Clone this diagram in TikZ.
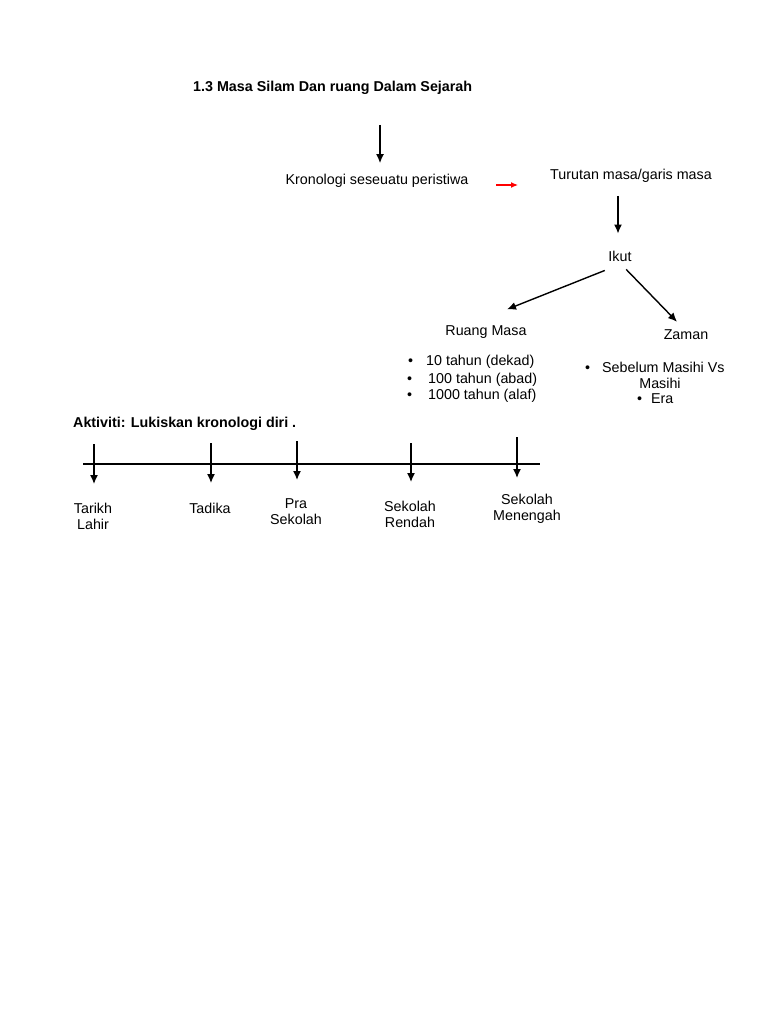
\documentclass[tikz,border=0pt]{standalone}
\usepackage{fontspec}
\setmainfont{Liberation Sans}
\usetikzlibrary{positioning,arrows.meta}
\tikzset{>={Latex[length=9pt,width=8pt]}}
\tikzstyle{txt}=[inner sep=0pt,font=\fontsize{14.3}{16}\selectfont,align=center]
\tikzstyle{head}=[txt,anchor=west,font=\fontsize{14.3}{16}\selectfont\bfseries]
\tikzstyle{item}=[txt,anchor=west,align=left]
\tikzstyle{link}=[->,line width=1.4pt]
\newcommand{\bul}[1][18pt]{\makebox[#1][l]{\textbullet}}

\begin{document}
\begin{tikzpicture}[x=1pt,y=-1pt]
\useasboundingbox (0,0) rectangle (768,1024);
\fill[white] (0,0) rectangle (768,1024);
\node[head] (title) at (193,88) {1.3 Masa Silam Dan ruang Dalam Sejarah};
\coordinate (top) at (380,125);
\node[txt] (kron) at (377,181) {Kronologi seseuatu peristiwa};
\node[txt] (turutan) at (631,176) {Turutan masa/garis masa};
\node[txt] (ikut) at (620,256) {Ikut};
\node[txt] (ruang) at (486,332) {Ruang Masa};
\node[txt] (zaman) at (686,335) {Zaman};
\draw[link] (top) -- ([yshift=11pt]top |- kron.north);
\coordinate (r1) at (496,185);
\coordinate (r2) at (518,185);
\draw[link,red,line width=1.2pt,>={Latex[length=7pt,width=6pt]}] (r1) -- (r2);
\draw[link] ([yshift=-13pt]turutan.south -| 618,0) -- ([yshift=17pt]ikut.north -| 618,0);
\draw[link] ([shift={(-3.5pt,-9pt)}]ikut.south west) -- ([shift={(21pt,16pt)}]ruang.north);
\draw[link] ([shift={(-5.5pt,-8pt)}]ikut.south east) -- ([shift={(-9pt,8pt)}]zaman.north);
% lists
\node[item] (r10) at (408,362) {\bul 10 tahun (dekad)};
\node[item] (r100) at (407,380) {\bul[21pt]100 tahun (abad)};
\node[item] (r1000) at (407,396) {\bul[21pt]1000 tahun (alaf)};
\node[item] (z1) at (585,367) {\bul[17pt]Sebelum Masihi Vs};
\node[txt] (z2) at (660,383) {Masihi};
\node[item] (z3) at (637,399) {\bul[14pt]Era};
% timeline
\node[head] (akt) at (73,424) {Aktiviti: Lukiskan kronologi diri .};
\coordinate (tl0) at (83,464);
\coordinate (tl1) at (540,464);
\draw[line width=1.5pt] (tl0) -- (tl1);
\foreach \x/\a/\b/\n in {94/444/484/1,211/443/483/2,297/441/480/3,411/443/482/4,517/437/478/5}
  {\coordinate (a\n) at (\x,\a);
   \coordinate (b\n) at (\x,\b);
   \draw[link] (a\n) -- (b\n);}
\node[txt] (lahir) at (93,516) {Tarikh\\Lahir};
\node[txt] (tadika) at (210,508) {Tadika};
\node[txt] (pra) at (296,512) {Pra\\Sekolah};
\node[txt] (rendah) at (410,514) {Sekolah\\Rendah};
\node[txt] (menengah) at (527,509) {Sekolah\\Menengah};
\end{tikzpicture}
\end{document}
